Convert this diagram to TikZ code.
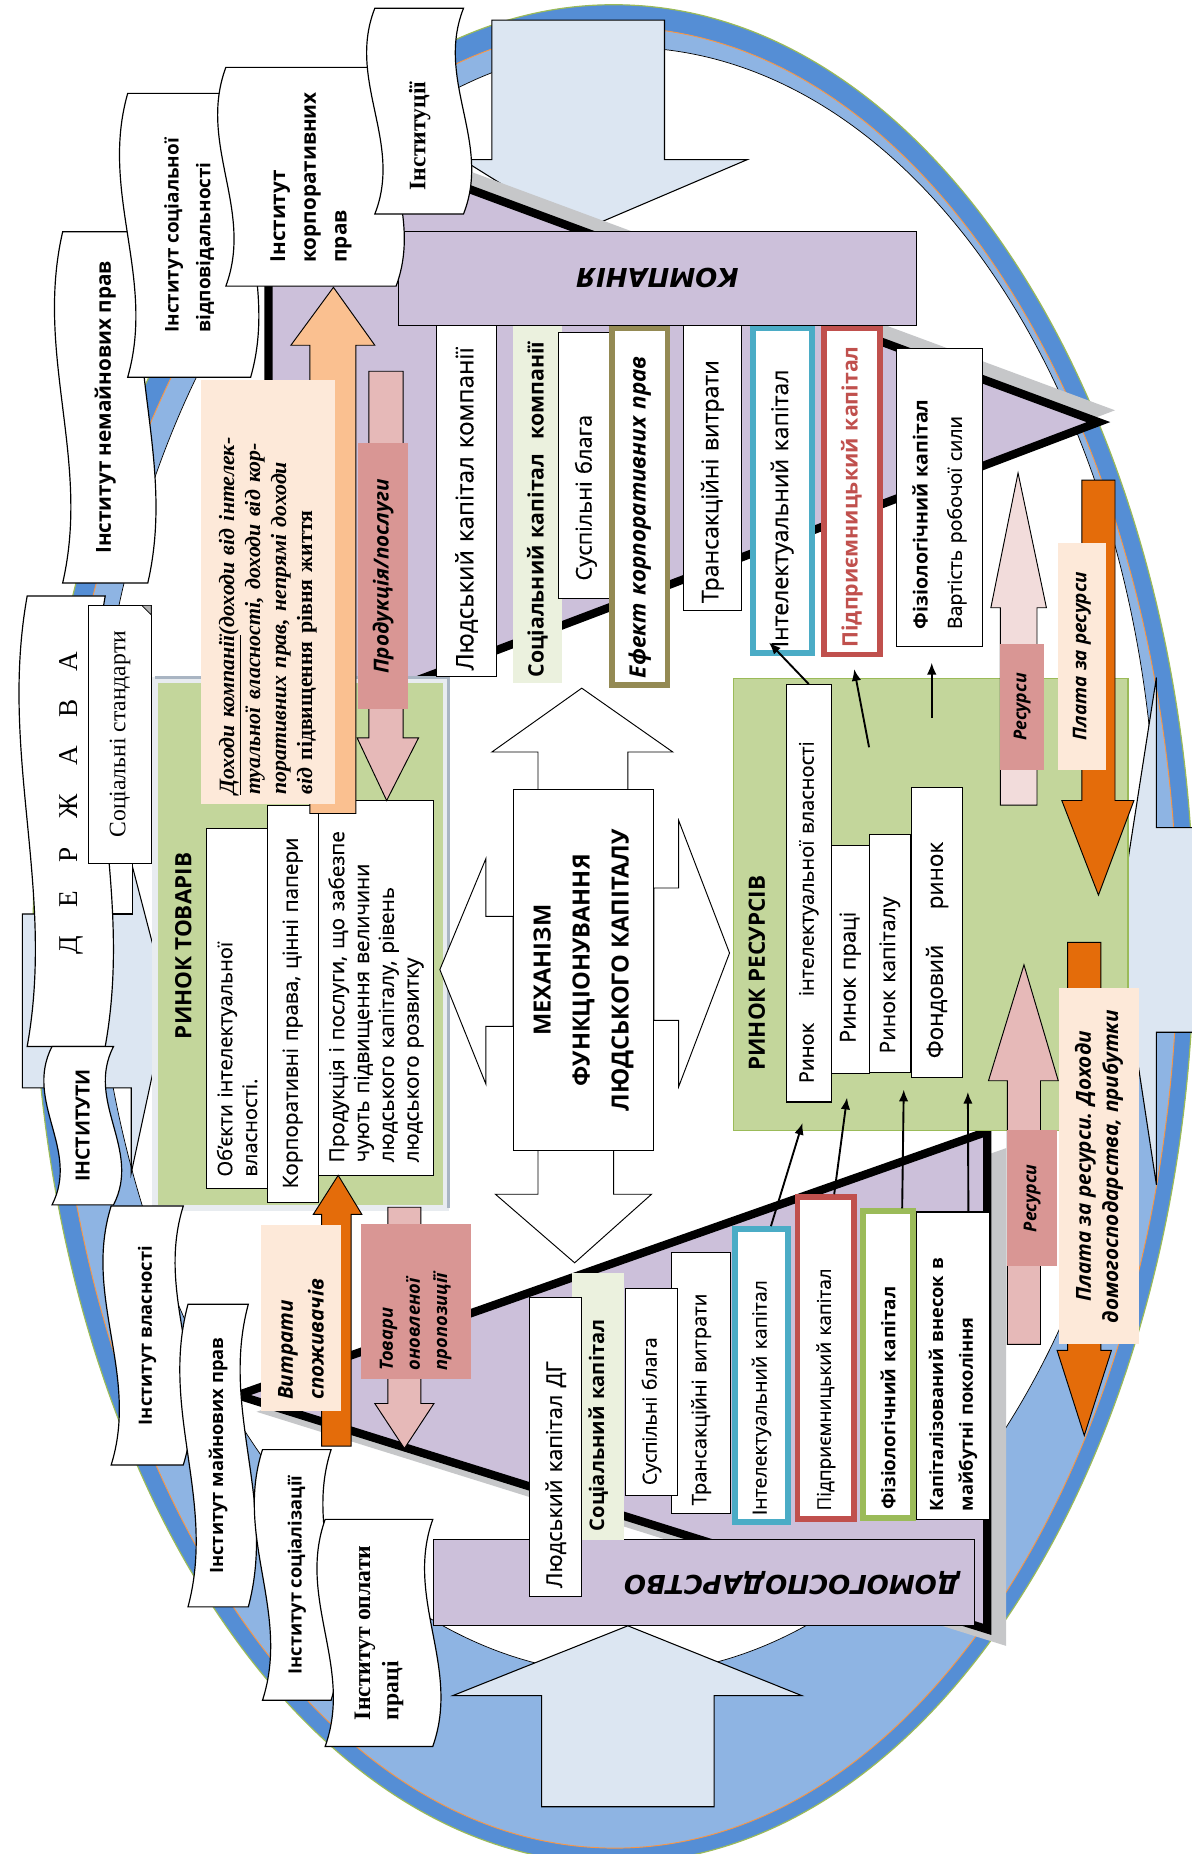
\documentclass[tikz,border=0pt]{standalone}
\usepackage{fontspec}
\setmainfont{Open Sans}[UprightFeatures={FakeBold=0.4}]
\newfontfamily\timesf{Liberation Serif}
\newfontfamily\widef{DejaVu Sans}
\usepackage{xcolor}
\usepackage{tikz}
\usetikzlibrary{arrows.meta}

\definecolor{lilac}{HTML}{CCC0DA}
\definecolor{bandblue}{HTML}{558ED5}
\definecolor{bandlight}{HTML}{8EB4E3}
\definecolor{bandorange}{HTML}{F79646}
\definecolor{paleblue}{HTML}{DCE6F2}
\definecolor{mktgreen}{HTML}{C3D69B}
\definecolor{palegreen}{HTML}{EBF1DE}
\definecolor{peach}{HTML}{FDE9D9}
\definecolor{rosedark}{HTML}{D99694}
\definecolor{rosemid}{HTML}{E6B9B8}
\definecolor{roselight}{HTML}{F2DCDB}
\definecolor{orangedark}{HTML}{E46C0A}
\definecolor{orangelight}{HTML}{FAC090}
\definecolor{effolive}{HTML}{948A54}
\definecolor{tealb}{HTML}{4BACC6}
\definecolor{redb}{HTML}{C0504D}
\definecolor{greenb}{HTML}{9BBB59}
\definecolor{shadowgray}{HTML}{C6C7C9}
\definecolor{goodsframe}{HTML}{E8ECF0}
\definecolor{goodsedge}{HTML}{A9B5C3}

\newcommand{\fsz}[2]{\fontsize{#1}{#2}\selectfont}
% wavy scroll with text along its long side
\newcommand{\scrollshape}[4]{%
  \filldraw[fill=white,draw=black,line width=1pt]
    (#1,#2) -- (#3,#2)
    .. controls ({#3-24},{#2+(#4-#2)*0.35}) and ({#3+24},{#2+(#4-#2)*0.65}) .. (#3,#4)
    -- (#1,#4)
    .. controls ({#1+24},{#2+(#4-#2)*0.65}) and ({#1-24},{#2+(#4-#2)*0.35}) .. (#1,#2) -- cycle;}

\begin{document}
\begin{tikzpicture}[x=1pt,y=-1pt,>=Latex,
    rbox/.style={draw=black,fill=white,line width=0.9pt,rotate=90,inner sep=0pt,align=left,font=\fsz{19}{21}},
    flowtag/.style={rotate=90,inner sep=0pt,align=center,font=\bfseries\itshape\fsz{17.5}{22}},
    scrolltxt/.style={rotate=90,inner sep=0pt,align=left,font=\bfseries\fsz{17}{26}},
    bigarrow/.style={fill=paleblue,draw=black,line width=0.9pt},
    flowarrow/.style={draw=black,line width=0.8pt},
    conn/.style={->,line width=1.6pt,>={Latex[length=10pt,width=8pt]}},
    mkttitle/.style={rotate=90,font=\bfseries\fsz{19}{22}},
  ]
  \useasboundingbox (0,0) rectangle (1008,1568);
  \clip (0,0) rectangle (1008,1568);

  % ellipse rings
  \filldraw[fill=bandblue,draw=greenb,line width=1pt] (519,790) ellipse [x radius=491,y radius=786];
  \filldraw[fill=bandlight,draw=bandorange,line width=0.8pt] (520,793) ellipse [x radius=476,y radius=770];
  \filldraw[fill=white,draw=black,line width=0.6pt] (528,728) ellipse [x radius=450,y radius=688];

  % big light-blue arrows
  \filldraw[bigarrow] (416,17) -- (562,17) -- (562,135) -- (632,135) -- (489,196) -- (391,135) -- (416,135) -- cycle;
  \filldraw[bigarrow] (458,1528) -- (604,1528) -- (604,1434) -- (678,1434) -- (531,1375) -- (383,1434) -- (458,1434) -- cycle;
  \filldraw[bigarrow] (19,773) -- (111,773) -- (111,729) -- (142,848) -- (111,992) -- (111,920) -- (19,920) -- cycle;
  \filldraw[bigarrow] (1012,700) -- (978,700) -- (978,573) -- (945,785) -- (978,1002) -- (978,873) -- (1012,873) -- cycle;

  % company and household triangles
  \fill[shadowgray] (241,87) -- (943,347) -- (241,613) -- cycle;
  \filldraw[fill=lilac,draw=black,line width=7pt,line join=miter] (227,97) -- (929,357) -- (227,623) -- cycle;
  \fill[shadowgray] (217,1194) -- (851,971) -- (851,1392) -- cycle;
  \filldraw[fill=lilac,draw=black,line width=7pt,line join=miter] (201,1180) -- (835,957) -- (835,1378) -- cycle;

  % markets
  \filldraw[fill=mktgreen,draw=goodsframe,line width=5pt] (131,575) rectangle (377,1022);
  \draw[goodsedge,line width=2.5pt] (131,573) -- (379,573) -- (379,1022);
  \filldraw[fill=mktgreen,draw=greenb,line width=1pt] (620,574) rectangle (954,956);
  \node[mkttitle] (goodsTitle) at (155,800) {РИНОК ТОВАРІВ};
  \node[mkttitle] (resTitle) at (640,823) {РИНОК РЕСУРСІВ};

  % mechanism with four block arrows
  \filldraw[flowarrow,fill=white] (455,668) -- (455,636) -- (416,636) -- (492,582) -- (569,636) -- (531,636) -- (531,668) -- cycle;
  \filldraw[flowarrow,fill=white] (455,973) -- (455,1010) -- (419,1010) -- (486,1068) -- (551,1010) -- (519,1010) -- (519,973) -- cycle;
  \filldraw[flowarrow,fill=white] (434,775) -- (411,775) -- (411,726) -- (372,820) -- (411,917) -- (411,868) -- (434,868) -- cycle;
  \filldraw[flowarrow,fill=white] (553,751) -- (574,751) -- (574,694) -- (617,806) -- (574,919) -- (574,863) -- (553,863) -- cycle;
  \node[rbox,align=center,font=\bfseries\fsz{20}{33},minimum width=305pt,minimum height=119pt] (mech) at (493.5,820.5) {МЕХАНІЗМ\\ФУНКЦІОНУВАННЯ\\ЛЮДСЬКОГО КАПІТАЛУ};

  % company side
  \node[rbox,font=\fsz{20.5}{23},minimum width=311pt,minimum height=51pt,text width=301pt] (cHuman) at (394.5,416.5) {Людський капітал компанії};
  \node[rbox,draw=none,fill=palegreen,font=\bfseries\fsz{18}{21},minimum width=302pt,minimum height=41pt,text width=292pt] (cSocial) at (454.5,427) {Соціальний капітал\ \ компанії};
  \node[rbox,font=\fsz{18.5}{21},minimum width=225pt,minimum height=47pt,text width=195pt] (cPublic) at (495.5,393.5) {Суспільні блага};
  \node[rbox,draw=effolive,line width=5pt,font=\bfseries\itshape\fsz{19}{21},minimum width=302pt,minimum height=47pt,text width=290pt] (cEffect) at (541,428.5) {Ефект корпоративних прав};
  \node[rbox,font=\fsz{19.5}{21},minimum width=241pt,minimum height=49pt,text width=229pt] (cTrans) at (602.5,395.5) {Трансакційні витрати};
  \node[rbox,draw=tealb,line width=5pt,font=\fsz{19.5}{21},minimum width=275pt,minimum height=50pt,text width=265pt] (cIntel) at (661.5,415) {Інтелектуальний капітал};
  \node[rbox,draw=redb,line width=5pt,text=redb,font=\bfseries\fsz{18}{21},minimum width=276pt,minimum height=48pt,text width=264pt] (cEntr) at (720.5,415.5) {Підприємницький капітал};
  \node[rbox,font=\fsz{16.5}{29},minimum width=252pt,minimum height=73pt,text width=222pt] (cPhys) at (794.5,421) {{\bfseries Фізіологічний капітал}\\Вартість робочої сили};
  \node[fill=lilac,draw=black,line width=0.9pt,rotate=180,font=\widef\bfseries\itshape\fsz{22}{26},minimum width=438pt,minimum height=79pt] (company) at (556,235.5) {КОМПАНІЯ};

  % household side
  \node[fill=lilac,draw=black,line width=0.9pt,rotate=180,inner sep=0pt,align=left,text width=433pt,font=\widef\bfseries\itshape\fsz{22}{26},minimum width=457pt,minimum height=73pt] (household) at (595.5,1338.5) {ДОМОГОСПОДАРСТВО};
  \node[rbox,draw=none,fill=palegreen,font=\bfseries\fsz{17}{21},minimum width=225pt,minimum height=44pt,text width=211pt] (hSocial) at (506,1189.5) {Соціальний капітал};
  \node[rbox,font=\fsz{18.5}{23},minimum width=253pt,minimum height=44pt,text width=239pt] (hHuman) at (470,1223.5) {Людський капітал ДГ};
  \node[rbox,font=\fsz{17}{21},minimum width=221pt,minimum height=50pt,text width=207pt] (hTrans) at (593,1169.5) {Трансакційні витрати};
  \node[rbox,font=\fsz{16.5}{21},minimum width=175pt,minimum height=44pt,text width=157pt] (hPublic) at (551,1177.5) {Суспільні блага};
  \node[rbox,draw=tealb,line width=5pt,font=\fsz{16.5}{21},minimum width=248pt,minimum height=45pt,text width=236pt] (hIntel) at (644,1163.5) {Інтелектуальний капітал};
  \node[rbox,draw=redb,line width=5pt,font=\fsz{16}{21},minimum width=272pt,minimum height=48pt,text width=258pt] (hEntr) at (698.5,1148.5) {Підприємницький капітал};
  \node[rbox,draw=greenb,line width=5pt,font=\bfseries\fsz{16}{21},minimum width=259pt,minimum height=43pt,text width=245pt] (hPhys) at (751,1154) {Фізіологічний капітал};
  \node[rbox,font=\bfseries\fsz{15.5}{25},minimum width=260pt,minimum height=62pt,text width=246pt] (hCap) at (806,1155) {Капіталізований внесок в\\майбутні покоління};

  % market of goods
  \node[rbox,font=\fsz{17}{21},minimum width=304pt,minimum height=51pt,text width=284pt] (gObj) at (200.5,853) {Об’єкти інтелектуальної\\власності.};
  \node[rbox,font=\fsz{17.5}{21},minimum width=336pt,minimum height=43pt,text width=312pt] (gCorp) at (247.5,849) {Корпоративні права, цінні папери};
  \node[rbox,font=\fsz{17.5}{21},minimum width=317pt,minimum height=98pt,text width=295pt] (gProd) at (318,835.5) {Продукція і послуги, що забезпе\\чують підвищення величини\\людського капіталу, рівень\\людського розвитку};

  % market of resources
  \node[rbox,font=\fsz{17}{21},minimum width=353pt,minimum height=38pt,text width=321pt] (rIP) at (684,755.5) {Ринок\hspace{1em} інтелектуальної власності};
  \node[rbox,font=\fsz{18.5}{21},minimum width=193pt,minimum height=32pt,text width=141pt] (rLab) at (719,811.5) {Ринок праці};
  \node[rbox,font=\fsz{18}{21},minimum width=201pt,minimum height=35pt,text width=169pt] (rCap) at (752.5,806.5) {Ринок капіталу};
  \node[rbox,font=\fsz{19}{21},minimum width=245pt,minimum height=43pt,text width=213pt] (rStock) at (792.5,788.5) {Фондовий\hspace{30pt}ринок};

  % flows between company, household and markets
  \filldraw[flowarrow,fill=orangelight] (262,688) -- (262,292) -- (246,292) -- (282,243) -- (317,292) -- (301,292) -- (301,688) -- cycle;
  \filldraw[flowarrow,fill=rosemid] (312,314) -- (341,314) -- (341,624) -- (354,624) -- (327,677) -- (302,624) -- (312,624) -- cycle;
  \node[flowtag,fill=rosedark,minimum width=225pt,minimum height=42pt] (prodTag) at (324,487.5) {Продукція/послуги};
  \node[rotate=90,fill=peach,inner sep=0pt,align=left,text width=343pt,minimum width=359pt,minimum height=113pt,font=\timesf\bfseries\itshape\fsz{18.5}{22}] (incomeTag) at (226.5,500.5) {\underline{Доходи компанії}(доходи від інтелек-\\туальної власності, доходи від кор-\\поративних прав, непрямі доходи\\від \textup{підвищення рівня життя}};

  \filldraw[flowarrow,fill=orangedark] (272,1223) -- (272,1027) -- (265,1027) -- (286,994) -- (306,1027) -- (297,1027) -- (297,1223) -- cycle;
  \node[flowtag,fill=peach,align=left,text width=139pt,font=\bfseries\itshape\fsz{17.5}{26},minimum width=157pt,minimum height=67pt] (spendTag) at (254.5,1114.5) {Витрати\\споживачів};
  \filldraw[flowarrow,fill=rosemid] (328,1021) -- (356,1021) -- (356,1187) -- (367,1187) -- (342,1225) -- (317,1187) -- (328,1187) -- cycle;
  \node[flowtag,fill=rosedark,align=left,text width=117pt,font=\bfseries\itshape\fsz{15.5}{23},minimum width=131pt,minimum height=93pt] (goodsTag) at (351.5,1100.5) {Товари\\оновленої\\пропозиції};

  \filldraw[flowarrow,fill=roselight] (846,681) -- (846,514) -- (838,514) -- (861,400) -- (885,514) -- (877,514) -- (877,681) -- cycle;
  \node[flowtag,fill=rosedark,font=\bfseries\itshape\fsz{15}{20},minimum width=106pt,minimum height=37pt] (resTagA) at (864.5,598) {Ресурси};
  \filldraw[flowarrow,fill=orangedark] (915,406) -- (943,406) -- (943,677) -- (959,677) -- (929,757) -- (898,677) -- (915,677) -- cycle;
  \node[flowtag,fill=peach,font=\bfseries\itshape\fsz{16}{20},minimum width=192pt,minimum height=40pt] (payTagA) at (915,555) {Плата за ресурси};
  \filldraw[flowarrow,fill=rosemid] (852,1137) -- (852,914) -- (836,914) -- (866,816) -- (895,914) -- (880,914) -- (880,1137) -- cycle;
  \node[flowtag,fill=rosedark,font=\bfseries\itshape\fsz{15}{20},minimum width=115pt,minimum height=42pt] (resTagB) at (873,1013.5) {Ресурси};
  \filldraw[flowarrow,fill=orangedark] (903,797) -- (931,797) -- (931,1142) -- (940,1142) -- (917,1214) -- (894,1142) -- (903,1142) -- cycle;
  \node[flowtag,fill=peach,font=\bfseries\itshape\fsz{17.5}{23},minimum width=301pt,minimum height=67pt] (payTagB) at (929.5,986.5) {Плата за ресурси. Доходи\\домогосподарства, прибутки};

  % connectors
  \coordinate (labFree) at (735,632);
  \coordinate (physFree) at (788,607);
  \draw[conn,shorten >=-16pt] (rIP.east) -- (cIntel.west);
  \draw[conn,shorten >=10pt] (labFree) -- (cEntr.west);
  \draw[conn,shorten >=13pt] (physFree) -- ([xshift=-6.5pt]cPhys.west);
  \draw[conn,shorten >=18pt] ([xshift=8pt]hIntel.east) -- (rIP.west);
  \draw[conn,shorten >=20pt] ([xshift=7pt]hEntr.east) -- (rLab.west);
  \draw[conn,shorten >=14pt] ([xshift=12pt]hPhys.east) -- ([xshift=12pt]rCap.west);
  \draw[conn,shorten >=12pt] ([xshift=13pt]hCap.east) -- ([xshift=26pt]rStock.west);

  % institutions (top)
  \scrollshape{53}{196}{125}{493}
  \node[scrolltxt,font=\bfseries\fsz{17.5}{26}] (sNonprop) at (89,344.5) {Інститут немайнових прав};
  \scrollshape{108}{79}{212}{319}
  \node[scrolltxt,font=\bfseries\fsz{16}{27}] (sSocResp) at (160,199) {Інститут соціальної\\відповідальності};
  \scrollshape{191}{57}{335}{242}
  \node[scrolltxt,font=\bfseries\fsz{17.5}{26}] (sCorp) at (263,150) {Інститут\\корпоративних\\прав};
  \scrollshape{317}{7}{392}{181}
  \node[scrolltxt,font=\timesf\bfseries\fsz{20}{24}] (sInst) at (355,115) {Інституції};

  % state (left)
  \filldraw[fill=white,draw=black,line width=0.9pt] (80,729) rectangle (112,773);
  \scrollshape{23}{504}{89}{885}
  \node[rotate=90,font=\timesf\fsz{23}{26}] (state) at (60,679) {Д\hspace{24pt}Е\hspace{24pt}Р\hspace{24pt}Ж\hspace{24pt}А\hspace{24pt}В\hspace{24pt}А};
  \node[rbox,align=center,font=\timesf\fsz{20}{24},minimum width=218pt,minimum height=53pt] (standards) at (101.5,621) {Соціальні стандарти};
  \filldraw[fill=gray!60,draw=black,line width=0.6pt] (120,512) -- (128,520) -- (128,512) -- cycle;
  \scrollshape{44}{885}{96}{1019}
  \node[scrolltxt,font=\bfseries\fsz{16.5}{20}] (sInstitutes) at (70,952) {ІНСТИТУТИ};

  % institutions (bottom)
  \scrollshape{94}{1020}{155}{1239}
  \node[scrolltxt,font=\bfseries\fsz{15.5}{20}] (sProp) at (124.5,1129.5) {Інститут власності};
  \scrollshape{159}{1103}{210}{1359}
  \node[scrolltxt,font=\bfseries\fsz{15.5}{20}] (sPropRights) at (184.5,1231) {Інститут майнових прав};
  \scrollshape{222}{1226}{280}{1438}
  \node[scrolltxt,font=\bfseries\fsz{15.5}{20}] (sSocialis) at (251,1332) {Інститут соціалізації};
  \scrollshape{275}{1285}{366}{1477}
  \node[scrolltxt,font=\timesf\bfseries\fsz{20}{24}] (sWage) at (320.5,1381) {Інститут оплати\\праці};
\end{tikzpicture}
\end{document}
